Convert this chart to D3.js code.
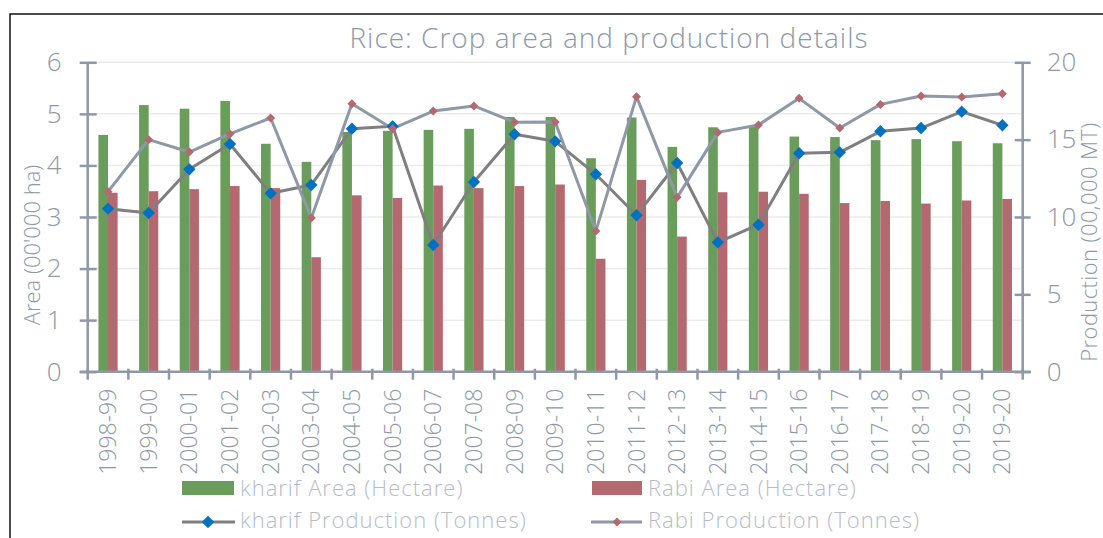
<!DOCTYPE html>
<html><head><meta charset="utf-8">
<script src="https://cdn.jsdelivr.net/npm/d3@7"></script>
<style>
html,body{margin:0;padding:0;background:#fff;}
text{font-family:"Open Sans","Noto Sans",sans-serif;font-weight:300;}
</style></head>
<body>
<svg id="chart" width="1103" height="538"></svg>
<script>
const categories = ["1998-99","1999-00","2000-01","2001-02","2002-03","2003-04","2004-05","2005-06","2006-07","2007-08","2008-09","2009-10","2010-11","2011-12","2012-13","2013-14","2014-15","2015-16","2016-17","2017-18","2018-19","2019-20","2019-20"];
const kharifArea = [4.59,5.17,5.10,5.25,4.42,4.07,4.65,4.67,4.69,4.71,4.94,4.94,4.14,4.93,4.36,4.74,4.76,4.56,4.55,4.49,4.51,4.47,4.43];
const rabiArea = [3.47,3.50,3.54,3.60,3.56,2.22,3.42,3.37,3.61,3.56,3.60,3.63,2.19,3.72,2.62,3.48,3.49,3.45,3.27,3.31,3.26,3.32,3.35];
const kharifProd = [10.54,10.26,13.08,14.72,11.53,12.07,15.71,15.86,8.19,12.26,15.35,14.89,12.76,10.11,13.49,8.36,9.50,14.12,14.18,15.54,15.75,16.81,15.93];
const rabiProd = [11.64,15.0,14.2,15.37,16.4,9.94,17.32,15.71,16.85,17.18,16.12,16.14,9.09,17.78,11.27,15.47,15.95,17.67,15.75,17.28,17.82,17.76,17.97];
const areaTicks = [0,1,2,3,4,5,6];
const prodTicks = [0,5,10,15,20];

const svg = d3.select("#chart");
const L = 87.7, R = 1022.7, T = 62.3, B = 371.7;
const axisCol = "#8E98A6", textCol = "#8E98A6", gridCol = "#EBEBEB";
const green = "#6A9D5B", red = "#B46870", blue = "#0070C0", kLine = "#7F7F7F", rLine = "#8E98A6";
const FONT = "'Open Sans','Noto Sans',sans-serif";

// frame
svg.append("rect").attr("x",10).attr("y",14).attr("width",1120).attr("height",560)
  .attr("fill","none").attr("stroke","#000").attr("stroke-width",1.4);

const x = d3.scaleBand().domain(d3.range(categories.length)).range([L,R]);
const yA = d3.scaleLinear().domain([0,6]).range([B,T]);
const yP = d3.scaleLinear().domain([0,20]).range([B,T]);

// gridlines
svg.append("g").selectAll("line").data(areaTicks.slice(1)).join("line")
  .attr("x1",L).attr("x2",R).attr("y1",d=>yA(d)).attr("y2",d=>yA(d))
  .attr("stroke",gridCol).attr("stroke-width",1.5);

// title
svg.append("text").attr("x",609).attr("y",48).attr("text-anchor","middle")
  .attr("font-size",28).attr("letter-spacing",1).attr("fill",textCol)
  .text("Rice: Crop area and production details");

// bars
const bw = 9.6;
svg.append("g").selectAll("rect").data(kharifArea).join("rect")
  .attr("x",(d,i)=>x(i)+x.bandwidth()/2-bw).attr("width",bw)
  .attr("y",d=>yA(d)).attr("height",d=>B-yA(d)).attr("fill",green);
svg.append("g").selectAll("rect").data(rabiArea).join("rect")
  .attr("x",(d,i)=>x(i)+x.bandwidth()/2).attr("width",bw)
  .attr("y",d=>yA(d)).attr("height",d=>B-yA(d)).attr("fill",red);

// left axis
const gl = svg.append("g").attr("transform",`translate(${L},0)`)
  .call(d3.axisLeft(yA).tickValues(areaTicks).tickFormat(d3.format("d")).tickSize(8).tickPadding(18));
gl.select(".domain").attr("stroke",axisCol).attr("stroke-width",2.5).attr("d",`M0,${T}V${B}`);
gl.selectAll(".tick line").attr("stroke",axisCol).attr("stroke-width",2.5).attr("x1",9).attr("x2",-8);
gl.selectAll(".tick text").attr("fill",textCol).attr("font-size",26).attr("font-weight",300)
  .attr("font-family",FONT);

// right axis
const gr = svg.append("g").attr("transform",`translate(${R},0)`)
  .call(d3.axisRight(yP).tickValues(prodTicks).tickFormat(d3.format("d")).tickSize(8).tickPadding(16));
gr.select(".domain").attr("stroke",axisCol).attr("stroke-width",2.5).attr("d",`M0,${T}V${B}`);
gr.selectAll(".tick line").attr("stroke",axisCol).attr("stroke-width",2.5).attr("x1",-8).attr("x2",8);
gr.selectAll(".tick text").attr("fill",textCol).attr("font-size",26).attr("font-weight",300)
  .attr("font-family",FONT);

// x axis
const gx = svg.append("g").attr("transform",`translate(0,${B})`)
  .call(d3.axisBottom(x).tickSize(0).tickPadding(0).tickFormat(i=>categories[i]));
gx.select(".domain").remove();
gx.selectAll(".tick text").attr("fill",textCol).attr("font-size",23).attr("font-weight",300)
  .attr("font-family",FONT)
  .attr("transform","rotate(-90)").attr("text-anchor","end").attr("dx","-17").attr("dy","0.35em");
svg.append("line").attr("x1",L-8).attr("x2",R+8).attr("y1",B).attr("y2",B)
  .attr("stroke",axisCol).attr("stroke-width",2.5);
svg.append("g").selectAll("line").data(d3.range(categories.length+1)).join("line")
  .attr("x1",i=>i<categories.length?x(i):R).attr("x2",i=>i<categories.length?x(i):R)
  .attr("y1",B-3).attr("y2",B+8).attr("stroke",axisCol).attr("stroke-width",2.5);

// axis titles
svg.append("text").attr("transform",`translate(40,245) rotate(-90)`)
  .attr("text-anchor","middle").attr("font-size",22).attr("fill",textCol)
  .text("Area (00'000 ha)");
svg.append("text").attr("transform",`translate(1097,242) rotate(-90)`)
  .attr("text-anchor","middle").attr("font-size",22).attr("letter-spacing",0.4).attr("fill",textCol)
  .text("Production (00,000 MT)");

// lines
const cx = i => x(i)+x.bandwidth()/2;
const lineK = d3.line().x((d,i)=>cx(i)).y(d=>yP(d));
svg.append("path").datum(kharifProd).attr("d",lineK).attr("fill","none")
  .attr("stroke",kLine).attr("stroke-width",3).attr("stroke-linejoin","round");
svg.append("path").datum(rabiProd).attr("d",lineK).attr("fill","none")
  .attr("stroke",rLine).attr("stroke-width",3).attr("stroke-linejoin","round");

const diamond = s => `M0,${-s}L${s},0L0,${s}L${-s},0Z`;
svg.append("g").selectAll("path").data(kharifProd).join("path")
  .attr("d",diamond(6.2)).attr("transform",(d,i)=>`translate(${cx(i)},${yP(d)})`).attr("fill",blue);
svg.append("g").selectAll("path").data(rabiProd).join("path")
  .attr("d",diamond(4.5)).attr("transform",(d,i)=>`translate(${cx(i)},${yP(d)})`).attr("fill",red);

// legend
const legCol = "#B6BCC6";
const lg = svg.append("g").attr("font-size",22).attr("letter-spacing",1);
lg.append("rect").attr("x",182).attr("y",481).attr("width",52).attr("height",14).attr("fill",green);
lg.append("text").attr("x",240).attr("y",496).attr("fill",legCol).text("kharif Area (Hectare)");
lg.append("rect").attr("x",592).attr("y",481).attr("width",50).attr("height",14).attr("fill",red);
lg.append("text").attr("x",648).attr("y",496).attr("fill",legCol).text("Rabi Area (Hectare)");
lg.append("line").attr("x1",182).attr("x2",235).attr("y1",522).attr("y2",522).attr("stroke",kLine).attr("stroke-width",3);
lg.append("path").attr("d",diamond(6.2)).attr("transform","translate(208,522)").attr("fill",blue);
lg.append("text").attr("x",240).attr("y",528).attr("fill",legCol).text("kharif Production (Tonnes)");
lg.append("line").attr("x1",591).attr("x2",642).attr("y1",522).attr("y2",522).attr("stroke",rLine).attr("stroke-width",3);
lg.append("path").attr("d",diamond(4.5)).attr("transform","translate(617,522)").attr("fill",red);
lg.append("text").attr("x",648).attr("y",528).attr("fill",legCol).text("Rabi Production (Tonnes)");
</script>
</body></html>
